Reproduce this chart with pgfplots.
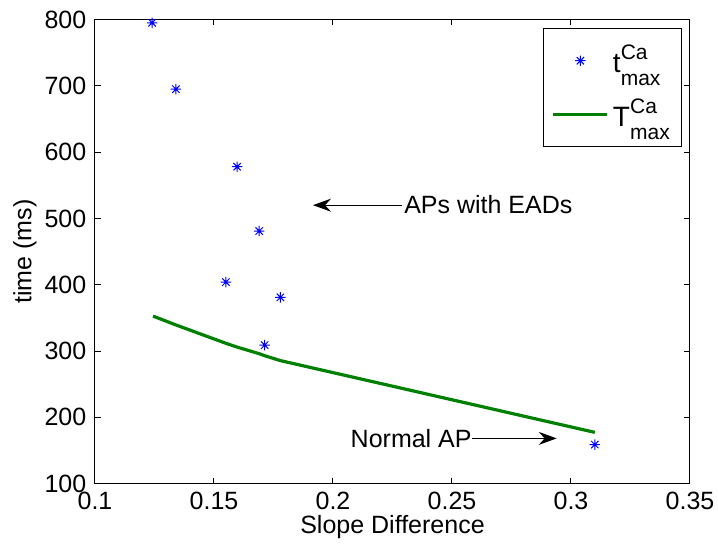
\documentclass[border=0pt]{standalone}
\usepackage{fontspec}
\setmainfont{Liberation Sans}
\usepackage{pgfplots}
\pgfplotsset{compat=1.18}
\usetikzlibrary{arrows.meta}
\definecolor{mgreen}{rgb}{0,0.5,0}
\pgfdeclareplotmark{star8}{%
  \pgfpathmoveto{\pgfpoint{-\pgfplotmarksize}{0pt}}\pgfpathlineto{\pgfpoint{\pgfplotmarksize}{0pt}}%
  \pgfpathmoveto{\pgfpoint{0pt}{-\pgfplotmarksize}}\pgfpathlineto{\pgfpoint{0pt}{\pgfplotmarksize}}%
  \pgfpathmoveto{\pgfpoint{-0.707\pgfplotmarksize}{-0.707\pgfplotmarksize}}\pgfpathlineto{\pgfpoint{0.707\pgfplotmarksize}{0.707\pgfplotmarksize}}%
  \pgfpathmoveto{\pgfpoint{-0.707\pgfplotmarksize}{0.707\pgfplotmarksize}}\pgfpathlineto{\pgfpoint{0.707\pgfplotmarksize}{-0.707\pgfplotmarksize}}%
  \pgfusepathqstroke}
\newcommand{\supsub}[3]{#1\rlap{\raisebox{6.7pt}{\fontsize{10.5}{11}\selectfont #2}}\raisebox{-6.2pt}{\fontsize{10.5}{11}\selectfont #3}}
\pgfplotsset{
  marklegend/.style={legend image code/.code={\draw[##1,only marks,mark=star8] plot coordinates {(13.5pt,0pt)};}},
  linelegend/.style={legend image code/.code={\draw[##1] (0pt,0pt) -- (27pt,0pt);}},
}
\begin{document}
\fontsize{12.5}{15}\selectfont
\begin{tikzpicture}
\begin{axis}[name=ax, scale only axis, width=297.5pt, height=232.1pt,
  xmin=0.1, xmax=0.35, ymin=100, ymax=800,
  xtick={0.1,0.15,0.2,0.25,0.3,0.35},
  xticklabels={0.1,0.15,0.2,0.25,0.3,0.35},
  ytick={100,200,300,400,500,600,700,800},
  yticklabels={100,200,300,400,500,600,700,800},
  tick align=inside, major tick length=3pt,
  tick style={black, line width=0.5pt},
  axis line style={line width=0.5pt},
  /pgf/number format/assume math mode=true,
  xlabel={Slope Difference}, ylabel={time (ms)},
  xlabel style={at={(axis description cs:0.5,-0.093)}, anchor=center},
  ylabel style={at={(axis description cs:-0.1176,0.5)}, anchor=center},
  legend style={at={(0.987,0.981)}, anchor=north east, draw=black, line width=0.5pt,
    font=\fontsize{14}{16}\selectfont, inner xsep=4pt, inner ysep=6pt,
    row sep=7pt},
  legend cell align=left,
]
\addplot[only marks, mark=star8, mark size=2.6pt, color=blue, line width=0.5pt, marklegend]
  coordinates {(0.124,795) (0.134,695) (0.1597,578) (0.169,481) (0.155,404) (0.1779,381) (0.1713,309) (0.310,159)};
\addlegendentry{\supsub{t}{Ca}{max}}
\addplot[no marks, color=mgreen, line width=1.6pt, linelegend]
  coordinates {(0.1244,352.7) (0.134,339.4) (0.155,311.7) (0.1597,306) (0.169,296) (0.1713,293) (0.1779,285.6) (0.310,177.4)};
\addlegendentry{\supsub{T}{Ca}{max}}
\draw[-{Stealth[length=9pt,width=6.5pt,inset=3pt]}, line width=0.5pt] (axis cs:0.2290,520) -- (axis cs:0.1916,520);
\node[anchor=base west, inner sep=0pt] at (axis cs:0.2298,507.7) {APs with EADs};
\draw[-{Stealth[length=9pt,width=6.5pt,inset=3pt]}, line width=0.5pt] (axis cs:0.2584,168.3) -- (axis cs:0.294,168.3);
\node[anchor=base east, inner sep=0pt] at (axis cs:0.2584,154.8) {Normal AP};
\end{axis}
\pgfresetboundingbox
\path[use as bounding box] ([xshift=-47.5pt,yshift=-32.15pt]ax.south west) rectangle ([xshift=14pt,yshift=9.75pt]ax.north east);
\end{tikzpicture}
\end{document}
